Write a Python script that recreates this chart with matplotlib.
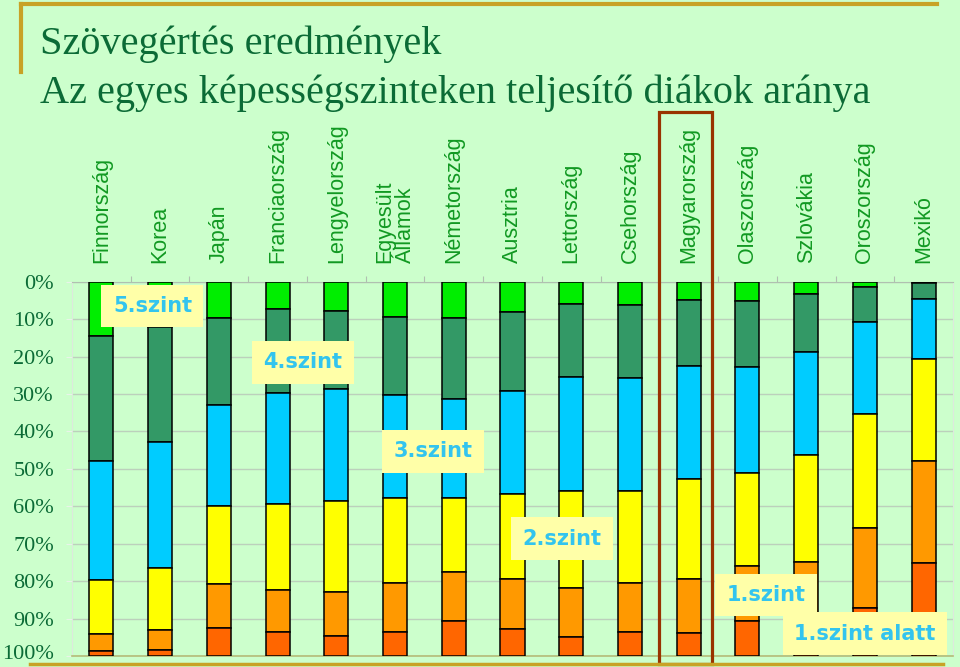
import matplotlib.pyplot as plt
from matplotlib.lines import Line2D
from matplotlib.patches import Rectangle
import matplotlib.transforms as mtransforms

countries = ['Finnország', 'Korea', 'Japán', 'Franciaország', 'Lengyelország',
             'Egyesült\nÁllamok', 'Németország', 'Ausztria', 'Lettország',
             'Csehország', 'Magyarország', 'Olaszország', 'Szlovákia',
             'Oroszország', 'Mexikó']

# share of students per level (%), top to bottom
szint5 = [14.5, 12.1, 9.6, 7.4, 7.8, 9.3, 9.6, 8.2, 5.9, 6.1, 4.8, 5.1, 3.3, 1.3, 0.3]
szint4 = [33.3, 30.7, 23.3, 22.4, 21.0, 20.9, 21.8, 21.1, 19.6, 19.5, 17.6, 17.8, 15.4, 9.6, 4.4]
szint3 = [31.9, 33.6, 27.1, 29.7, 29.7, 27.7, 26.4, 27.3, 30.4, 30.2, 30.2, 28.2, 27.7, 24.4, 15.9]
szint2 = [14.4, 16.7, 20.8, 23.0, 24.5, 22.7, 19.7, 22.7, 26.0, 24.8, 26.8, 24.9, 28.6, 30.5, 27.4]
szint1 = [4.6, 5.3, 11.8, 11.1, 11.6, 12.9, 13.1, 13.5, 13.0, 12.9, 14.4, 14.6, 16.2, 21.5, 27.2]
alatt = [1.3, 1.6, 7.4, 6.4, 5.4, 6.5, 9.4, 7.2, 5.1, 6.5, 6.2, 9.4, 8.8, 12.7, 24.8]

levels = [szint5, szint4, szint3, szint2, szint1, alatt]
colors = ['#00ee00', '#339966', '#00ccff', '#ffff00', '#ff9900', '#ff6600']

level_labels = ['5.szint', '4.szint', '3.szint', '2.szint', '1.szint', '1.szint alatt']
label_x = [0.87, 3.43, 5.65, 7.84, 11.32, 13.0]
label_y = [6.5, 21.5, 45.3, 68.7, 83.7, 94.1]

bg = '#ccffcc'
gold = '#c8a226'
dkgreen = '#0b6b36'

fig = plt.figure(figsize=(9.6, 6.67), dpi=100, facecolor=bg)
ax = fig.add_axes([72/960, 11/667, 881/960, 374.3/667])
ax.set_facecolor(bg)

x = list(range(len(countries)))
bottom = [0.0] * len(countries)
for vals, c in zip(levels, colors):
    ax.bar(x, vals, bottom=bottom, width=0.41, color=c, edgecolor='black',
           linewidth=1.1, zorder=3)
    bottom = [b + v for b, v in zip(bottom, vals)]

ax.set_xlim(-0.5, len(countries) - 0.5)
ax.set_ylim(100, 0)
ax.set_yticks(range(0, 101, 10))
ax.set_yticklabels([f'{v}%' for v in range(0, 101, 10)], fontsize=16,
                   family='Liberation Serif', color=dkgreen)
ax.tick_params(axis='y', length=4, color='#e8f4e8', pad=9)
# nudge the last label up so it stays inside the figure
last = ax.get_yticklabels()[-1]
last.set_transform(last.get_transform() +
                   mtransforms.ScaledTranslation(0, 3/72, fig.dpi_scale_trans))
ax.grid(axis='y', color='#bcd0bc', linewidth=1, zorder=0)
ax.set_xticks([i + 0.5 for i in range(len(countries) - 1)])
ax.set_xticklabels([])
ax.xaxis.tick_top()
ax.tick_params(axis='x', length=4, color='#b0c0b0')
for s in ['left', 'right']:
    ax.spines[s].set_color('#dde8dd')
ax.spines['top'].set_color('#b0c0b0')
ax.spines['bottom'].set_color('#b4bc78')
ax.spines['bottom'].set_linewidth(1.2)

trans = mtransforms.blended_transform_factory(ax.transData, ax.transAxes)
for i, name in enumerate(countries):
    ax.text(i, 1.05, name, transform=trans, rotation=90, ha='center',
            va='bottom', fontsize=15.5, family='Liberation Sans',
            color='#119922', linespacing=0.95, multialignment='left')

for t, lx, ly in zip(level_labels, label_x, label_y):
    ax.text(lx, ly, t, ha='center', va='center', fontsize=15,
            fontweight='bold', color='#33c4ee', zorder=5,
            bbox=dict(boxstyle='square,pad=0.55', fc='#ffffa8', ec='none'))

# highlight Hungary
ax.add_patch(Rectangle((9.5, -0.021), 0.9, 1.474, transform=trans,
                       fill=False, edgecolor='#993300', linewidth=2.3,
                       clip_on=False, zorder=6))

# slide decoration
fig.add_artist(Line2D([21/960, 937/960], [663/667, 663/667], color=gold, lw=3))
fig.add_artist(Line2D([21/960, 21/960], [663/667, 595/667], color=gold, lw=3))
fig.add_artist(Line2D([30/960, 943/960], [3/667, 3/667], color=gold, lw=2.5))

fig.text(40/960, 1 - 54/667, 'Szövegértés eredmények', fontsize=29,
         family='Liberation Serif', color=dkgreen, va='baseline')
fig.text(40/960, 1 - 103/667, 'Az egyes képességszinteken teljesítő diákok aránya',
         fontsize=29, family='Liberation Serif', color=dkgreen, va='baseline')

fig.savefig('out.png', dpi=100, facecolor=bg)
